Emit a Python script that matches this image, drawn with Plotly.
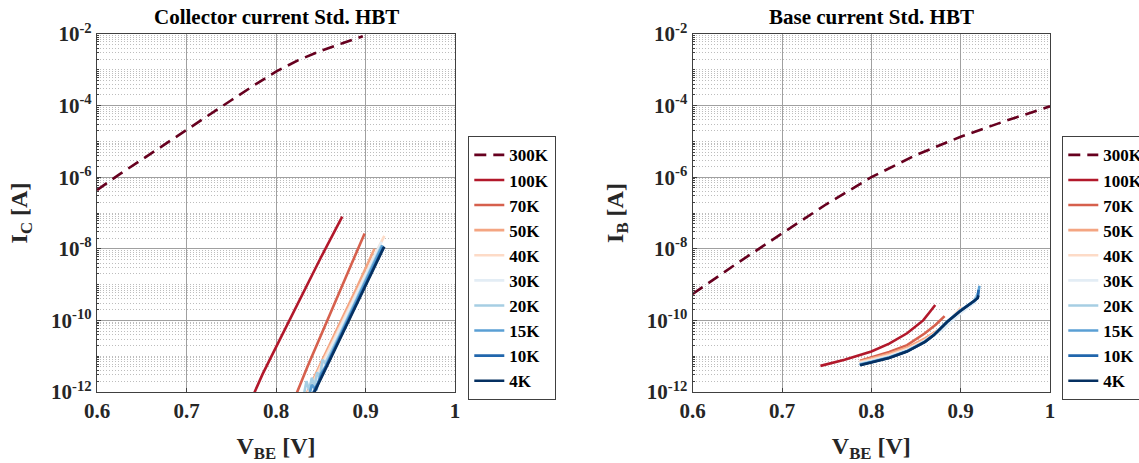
import plotly.graph_objects as go

# ---------------- data ----------------
labels = ["300K", "100K", "70K", "50K", "40K", "30K", "20K", "15K", "10K", "4K"]
colors = ["#67001f", "#b2182b", "#d6604d", "#f4a582", "#fddbc7",
          "#e3edf5", "#a6cee3", "#5a9fd4", "#2166ac", "#053061"]

# Collector current IC [A] vs VBE [V]
ic_v_300 = [0.60, 0.625, 0.65, 0.675, 0.70, 0.725, 0.75, 0.775, 0.80, 0.825, 0.85, 0.875, 0.897]
ic_300 = [4.37e-7, 1.20e-6, 3.09e-6, 8.13e-6, 2.09e-5, 5.37e-5, 1.41e-4, 3.63e-4, 8.91e-4,
          1.86e-3, 3.39e-3, 5.62e-3, 8.71e-3]
ic_v_100 = [0.770, 0.776, 0.785, 0.795, 0.81, 0.83, 0.85, 0.874]
ic_100 = [4.47e-13, 1e-12, 3.16e-12, 1e-11, 5.62e-11, 5.62e-10, 5.62e-9, 7.94e-8]
ic_v_70 = [0.818, 0.8234, 0.835, 0.85, 0.865, 0.88, 0.899]
ic_70 = [4.47e-13, 1e-12, 5.01e-12, 3.72e-11, 2.82e-10, 2.09e-9, 2.69e-8]
ic_v_50 = [0.831, 0.835, 0.85, 0.87, 0.89, 0.910]
ic_50 = [6.31e-13, 1e-12, 6.31e-12, 7.08e-11, 7.94e-10, 1e-8]
ic_v_40 = [0.832, 0.836, 0.86, 0.88, 0.90, 0.921]
ic_40 = [6.31e-13, 1e-12, 1.70e-11, 1.82e-10, 1.91e-9, 2.29e-8]
ic_v_30 = [0.834, 0.838, 0.86, 0.88, 0.90, 0.918]
ic_30 = [6.31e-13, 1e-12, 1.41e-11, 1.58e-10, 1.78e-9, 1.58e-8]
ic_v_20 = [0.831, 0.834, 0.837, 0.840, 0.843, 0.846, 0.849, 0.852, 0.855, 0.87, 0.89, 0.91, 0.918]
ic_20 = [7.94e-13, 2.0e-12, 1.12e-12, 2.51e-12, 1.41e-12, 3.55e-12, 2.51e-12, 7.94e-12,
         6.31e-12, 3.55e-11, 3.98e-10, 4.47e-9, 1.26e-8]
ic_v_15 = [0.836, 0.840, 0.845, 0.850, 0.855, 0.87, 0.89, 0.91, 0.919]
ic_15 = [6.31e-13, 1.58e-12, 1.12e-12, 3.16e-12, 5.01e-12, 3.16e-11, 3.55e-10, 3.98e-9, 1.26e-8]
ic_v_10 = [0.838, 0.842, 0.86, 0.88, 0.90, 0.920]
ic_10 = [5.62e-13, 1e-12, 8.32e-12, 9.12e-11, 1e-9, 1.10e-8]
ic_v_4 = [0.838, 0.843, 0.86, 0.88, 0.90, 0.921]
ic_4 = [5.01e-13, 1e-12, 7.59e-12, 8.32e-11, 9.12e-10, 1.15e-8]

# Base current IB [A] vs VBE [V]
ib_v_300 = [0.60, 0.65, 0.70, 0.75, 0.80, 0.85, 0.90, 0.95, 1.00]
ib_300 = [5.50e-10, 3.98e-9, 2.69e-8, 1.78e-7, 1e-6, 4.17e-6, 1.35e-5, 3.72e-5, 9.55e-5]
ib_v_100 = [0.743, 0.77, 0.80, 0.82, 0.84, 0.858, 0.865, 0.8715]
ib_100 = [5.37e-12, 7.94e-12, 1.35e-11, 2.24e-11, 4.37e-11, 1e-10, 1.66e-10, 2.69e-10]
ib_v_70 = [0.7875, 0.80, 0.82, 0.84, 0.86, 0.872, 0.882]
ib_70 = [7.41e-12, 9.33e-12, 1.32e-11, 2.04e-11, 4.37e-11, 7.59e-11, 1.32e-10]
ib_v_50 = [0.787, 0.80, 0.82, 0.84, 0.86, 0.875, 0.885]
ib_50 = [7.08e-12, 8.51e-12, 1.17e-11, 1.74e-11, 3.16e-11, 5.37e-11, 8.32e-11]
ib_v_40 = [0.787, 0.80, 0.82, 0.84, 0.86, 0.88, 0.901]
ib_40 = [6.76e-12, 7.94e-12, 1.07e-11, 1.58e-11, 2.82e-11, 6.31e-11, 2.40e-10]
ib_v_30 = [0.787, 0.80, 0.82, 0.84, 0.86, 0.88, 0.90, 0.918]
ib_30 = [6.31e-12, 7.41e-12, 1e-11, 1.48e-11, 2.63e-11, 5.62e-11, 1.58e-10, 3.55e-10]
ib_v_20 = [0.787, 0.80, 0.82, 0.84, 0.86, 0.87, 0.885, 0.90, 0.915, 0.92]
ib_20 = [6.03e-12, 7.08e-12, 9.55e-12, 1.41e-11, 2.63e-11, 3.98e-11, 9.33e-11, 1.91e-10, 3.55e-10, 6.31e-10]
ib_v_15 = [0.787, 0.80, 0.82, 0.84, 0.86, 0.87, 0.885, 0.90, 0.915, 0.919, 0.921]
ib_15 = [5.75e-12, 6.76e-12, 9.12e-12, 1.38e-11, 2.51e-11, 3.89e-11, 9.12e-11, 1.91e-10,
         3.47e-10, 4.47e-10, 9.33e-10]
ib_v_10 = [0.787, 0.80, 0.82, 0.84, 0.86, 0.87, 0.885, 0.90, 0.915, 0.919, 0.92]
ib_10 = [5.70e-12, 6.70e-12, 9.0e-12, 1.37e-11, 2.51e-11, 3.89e-11, 9.12e-11, 1.88e-10,
         3.42e-10, 4.30e-10, 7.08e-10]
ib_v_4 = [0.7875, 0.80, 0.82, 0.84, 0.86, 0.87, 0.885, 0.90, 0.915, 0.919, 0.92]
ib_4 = [5.62e-12, 6.61e-12, 8.91e-12, 1.35e-11, 2.51e-11, 3.89e-11, 9.12e-11, 1.86e-10,
        3.39e-10, 4.17e-10, 5.01e-10]

x_ticks = [0.6, 0.7, 0.8, 0.9, 1.0]
x_ticktext = ["0.6", "0.7", "0.8", "0.9", "1"]
y_ticks = [1e-12, 1e-10, 1e-8, 1e-6, 1e-4, 1e-2]
y_ticktext = ["10<sup>-12</sup>", "10<sup>-10</sup>", "10<sup>-8</sup>",
              "10<sup>-6</sup>", "10<sup>-4</sup>", "10<sup>-2</sup>"]

ic_sets = [(ic_v_300, ic_300), (ic_v_100, ic_100), (ic_v_70, ic_70), (ic_v_50, ic_50),
           (ic_v_40, ic_40), (ic_v_30, ic_30), (ic_v_20, ic_20), (ic_v_15, ic_15),
           (ic_v_10, ic_10), (ic_v_4, ic_4)]
ib_sets = [(ib_v_300, ib_300), (ib_v_100, ib_100), (ib_v_70, ib_70), (ib_v_50, ib_50),
           (ib_v_40, ib_40), (ib_v_30, ib_30), (ib_v_20, ib_20), (ib_v_15, ib_15),
           (ib_v_10, ib_10), (ib_v_4, ib_4)]

# ---------------- figure ----------------
FONT = "Liberation Serif"
fig = go.Figure()

def add_set(sets, xa, ya, legend):
    for (vx, vy), name, col in zip(sets, labels, colors):
        fig.add_trace(go.Scatter(
            x=vx, y=vy, mode="lines", name=name, xaxis=xa, yaxis=ya, legend=legend,
            line=dict(color=col, width=2.6,
                      dash="12px,7px" if name == "300K" else "solid"),
        ))

add_set(ic_sets, "x", "y", "legend")
add_set(ib_sets, "x2", "y2", "legend2")

# minor log grid positions (mantissas 2..9 and odd decades)
minor_vals = []
for k in range(-12, -2):
    for m in range(2, 10):
        minor_vals.append(m * 10.0 ** k)
    if k % 2 != 0:
        minor_vals.append(10.0 ** k)

W, H = 1139, 463
tickfont = dict(family=FONT, size=21, color="#262626", weight="bold")
titlefont = dict(family=FONT, size=24, color="#262626", weight="bold")
legfont = dict(family=FONT, size=17, color="#000", weight="bold")

def xaxis_cfg(domain):
    return dict(domain=domain, range=[0.6, 1.0], tickmode="array", tickvals=x_ticks,
                ticktext=x_ticktext, showgrid=True, gridcolor="#a0a0a0", gridwidth=1,
                showline=True, mirror=True, linecolor="#404040", linewidth=1.3,
                ticks="inside", ticklen=4, tickcolor="#404040", tickfont=tickfont,
                zeroline=False,
                title=dict(text="V<sub>BE</sub> [V]", font=titlefont, standoff=14))

def yaxis_cfg(domain, anchor, title):
    return dict(domain=domain, anchor=anchor, type="log", range=[-12, -2],
                tickmode="array", tickvals=y_ticks, ticktext=y_ticktext,
                showgrid=True, gridcolor="#a0a0a0", gridwidth=1,
                minor=dict(tickmode="array", tickvals=minor_vals, showgrid=True,
                           gridcolor="#bdbdbd", griddash="1px,2px", gridwidth=1,
                           ticks="inside", ticklen=2, tickcolor="#404040"),
                showline=True, mirror=True, linecolor="#404040", linewidth=1.3,
                ticks="inside", ticklen=4, tickcolor="#404040", tickfont=tickfont,
                zeroline=False,
                title=dict(text=title, font=titlefont, standoff=16))

ydom = [1 - 392 / H, 1 - 34 / H]
fig.update_layout(
    width=W, height=H,
    margin=dict(l=0, r=0, t=0, b=0, autoexpand=False),
    paper_bgcolor="white", plot_bgcolor="white",
    font=dict(family=FONT, color="#262626"),
    xaxis=xaxis_cfg([97 / W, 455 / W]),
    yaxis=yaxis_cfg(ydom, "x", "I<sub>C</sub> [A]"),
    xaxis2=dict(xaxis_cfg([692.7 / W, 1050 / W]), anchor="y2"),
    yaxis2=yaxis_cfg(ydom, "x2", "I<sub>B</sub> [A]"),
    legend=dict(x=468 / W, y=1 - 136 / H, xanchor="left", yanchor="top",
                bgcolor="white", bordercolor="#404040", borderwidth=1.3,
                font=legfont, itemwidth=30, tracegroupgap=0),
    legend2=dict(x=1062 / W, y=1 - 136 / H, xanchor="left", yanchor="top",
                 bgcolor="white", bordercolor="#404040", borderwidth=1.3,
                 font=legfont, itemwidth=30, tracegroupgap=0),
    annotations=[
        dict(text="Collector current Std. HBT", x=(97 + 455) / 2 / W, y=1 - 3 / H,
             xref="paper", yref="paper", xanchor="center", yanchor="top", showarrow=False,
             font=dict(family=FONT, size=21, color="#000", weight="bold")),
        dict(text="Base current Std. HBT", x=(692.7 + 1050) / 2 / W, y=1 - 3 / H,
             xref="paper", yref="paper", xanchor="center", yanchor="top", showarrow=False,
             font=dict(family=FONT, size=21, color="#000", weight="bold")),
    ],
)

# remove the default page margin so the figure sits at the window's top-left corner
fig.write_html("out.html", config={"displayModeBar": False},
               post_script="document.body.style.margin='0px';document.body.style.padding='0px';")
